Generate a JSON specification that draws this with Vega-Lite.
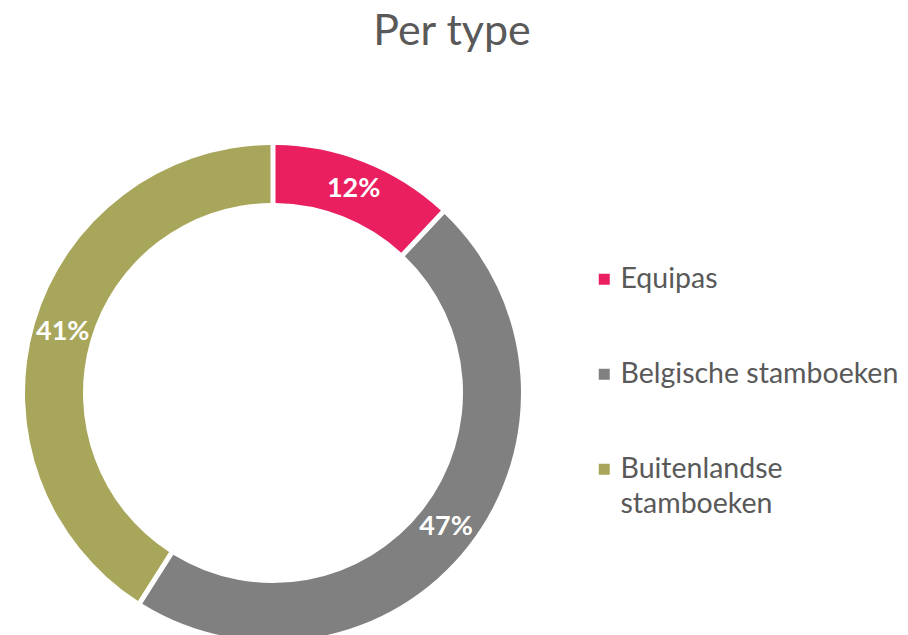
{
  "$schema": "https://vega.github.io/schema/vega-lite/v6.json",
  "autosize": {"type": "none"},
  "width": 496,
  "height": 496,
  "padding": {"left": 25, "top": 145, "right": 387, "bottom": 0},
  "background": "white",
  "title": {
    "text": "Per type",
    "font": "Lato",
    "fontSize": 43,
    "fontWeight": "normal",
    "color": "#595959",
    "anchor": "middle",
    "dx": 179,
    "offset": 91
  },
  "data": {
    "values": [
      {"type": "Equipas", "value": 12, "label": "12%", "idx": 1},
      {"type": "Belgische stamboeken", "value": 47, "label": "47%", "idx": 2},
      {"type": "Buitenlandse stamboeken", "value": 41, "label": "41%", "idx": 3}
    ]
  },
  "encoding": {
    "theta": {"field": "value", "type": "quantitative", "stack": true},
    "order": {"field": "idx", "type": "quantitative"},
    "color": {
      "field": "type",
      "type": "nominal",
      "sort": ["Equipas", "Belgische stamboeken", "Buitenlandse stamboeken"],
      "scale": {
        "domain": ["Equipas", "Belgische stamboeken", "Buitenlandse stamboeken"],
        "range": ["#E91F5F", "#808080", "#A8A65A"]
      },
      "legend": {
        "orient": "none",
        "legendX": 565,
        "legendY": 120,
        "title": null,
        "padding": 0,
        "symbolType": "square",
        "symbolSize": 121,
        "symbolStrokeWidth": 0,
        "labelFont": "Lato",
        "labelFontSize": 28.5,
        "labelColor": "#595959",
        "labelOffset": 2,
        "labelLimit": 400,
        "rowPadding": 66,
        "labelExpr": "datum.label == 'Buitenlandse stamboeken' ? ['Buitenlandse', 'stamboeken'] : datum.label",
        "encode": {"labels": {"update": {"lineHeight": {"value": 35}}}}
      }
    }
  },
  "layer": [
    {
      "mark": {"type": "arc", "outerRadius": 248, "innerRadius": 190, "padAngle": 0.016}
    },
    {
      "mark": {"type": "text", "radius": 219, "font": "Lato", "fontSize": 27, "fontWeight": "bold", "color": "white"},
      "encoding": {
        "text": {"field": "label", "type": "nominal"},
        "color": {"value": "white"}
      }
    }
  ]
}
